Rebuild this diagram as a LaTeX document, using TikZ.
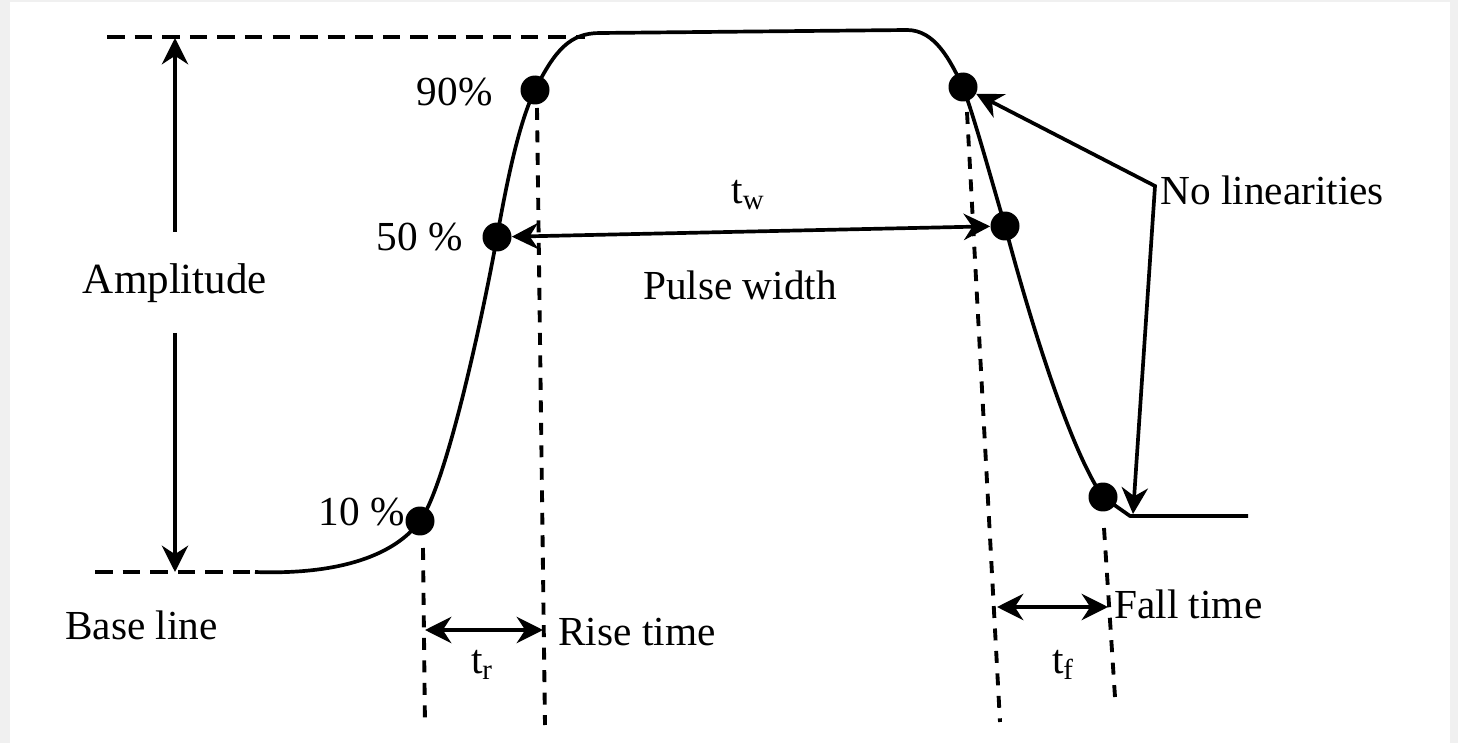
\documentclass[tikz,border=0pt]{standalone}
\usepackage{fontspec}
\setmainfont{Liberation Serif}
\usetikzlibrary{arrows.meta}
\begin{document}
\begin{tikzpicture}[x=0.02cm,y=-0.02cm,
  lbl/.style={font=\fontsize{23.5}{27}\selectfont, inner sep=0pt},
  dot/.style={circle,fill=black,minimum size=0.58cm,inner sep=0pt},
  wave/.style={line width=2.1pt,line join=round},
  vguide/.style={line width=2.2pt,dash pattern=on 6.8pt off 6pt},
  hguide/.style={line width=2.4pt,dash pattern=on 10pt off 5.7pt},
  onearrow/.style={line width=1.9pt,-{Stealth[length=15pt,width=15pt]}},
  dimarrow/.style={line width=2.1pt,{Stealth[length=15pt,width=15pt]}-{Stealth[length=15pt,width=15pt]}}]
\useasboundingbox (0,0) rectangle (1458,743);
\fill[gray!12] (0,0) rectangle (1458,743);
\fill[white] (10,2) rectangle (1450,743);

% dots
\node[dot] (r10) at (420,521) {};
\node[dot] (r50) at (497,237) {};
\node[dot] (r90) at (535,90) {};
\node[dot] (f90) at (963,87) {};
\node[dot] (f50) at (1005,226) {};
\node[dot] (f10) at (1103,497) {};

% waveform
\draw[wave] (255,572) .. controls (340,575) and (395,555) .. (r10.center)
  .. controls (445,487) and (480,330) .. (r50.center)
  .. controls (508,175) and (520,120) .. (r90.center)
  .. controls (555,50) and (570,33) .. (600,33) -- (907,30)
  .. controls (935,30) and (950,60) .. (f90.center)
  .. controls (975,120) and (990,175) .. (f50.center)
  .. controls (1030,320) and (1070,450) .. (f10.center)
  -- (1130,516) -- (1248,516);

% horizontal guides
\coordinate (topL) at (107,37);
\coordinate (topR) at (585,37);
\coordinate (baseL) at (95,572);
\coordinate (baseR) at (255,572);
\draw[hguide] (topL) -- (topR);
\draw[hguide] (baseL) -- (baseR);

% amplitude
\node[lbl,font=\fontsize{24.5}{28}\selectfont] (amp) at (175,283) {Amplitude};
\coordinate (ampTop) at (175,38);
\coordinate (ampBot) at (175,572);
\coordinate (a1) at (175,232);
\coordinate (a2) at (175,333);
\draw[onearrow] (a1) -- (ampTop);
\draw[onearrow] (a2) -- (ampBot);
\node[lbl,anchor=west] (base) at (65,625) {Base line};

% level labels
\node[lbl,anchor=east] (l90) at (493,92) {90\%};
\node[lbl,anchor=east] (l50) at (463,237) {50 \%};
\node[lbl,anchor=east] (l10) at (405,512) {10 \%};

% vertical guides
\coordinate (v1a) at (423,548); \coordinate (v1b) at (425,727);
\coordinate (v2a) at (537,108); \coordinate (v2b) at (545,725);
\coordinate (v3a) at (967,112); \coordinate (v3b) at (1000,722);
\coordinate (v4a) at (1104,528); \coordinate (v4b) at (1115,697);
\draw[vguide] (v1a) -- (v1b);
\draw[vguide] (v2a) -- (v2b);
\draw[vguide] (v3a) -- (v3b);
\draw[vguide] (v4a) -- (v4b);

% pulse width
\draw[dimarrow] (r50) -- (f50);
\node[lbl] (tw) at (748,195) {t\textsubscript{w}};
\node[lbl] (pw) at (740,285) {Pulse width};

% rise time
\coordinate (rtL) at (425,630);
\coordinate (rtR) at (543,630);
\draw[dimarrow] (rtL) -- (rtR);
\node[lbl] (tr) at (482,665) {t\textsubscript{r}};
\node[lbl,anchor=west] (rise) at (558,632) {Rise time};

% fall time
\coordinate (ftL) at (997,607);
\coordinate (ftR) at (1108,607);
\draw[dimarrow] (ftL) -- (ftR);
\node[lbl] (tf) at (1063,665) {t\textsubscript{f}};
\node[lbl,anchor=west] (fall) at (1114,604) {Fall time};

% no linearities
\node[lbl,anchor=west] (nl) at (1160,190) {No linearities};
\coordinate (corner) at (1155,186);
\coordinate (nlb) at (1133,514);
\draw[dimarrow] (f90) -- (corner) -- (nlb);
\end{tikzpicture}
\end{document}
